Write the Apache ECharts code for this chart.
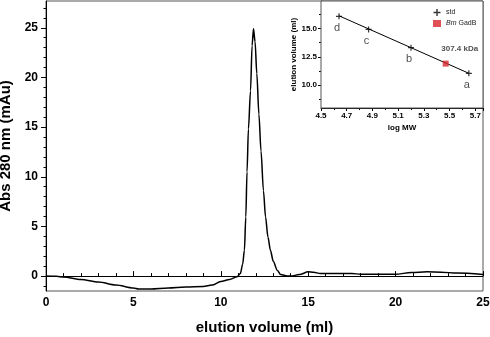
<!DOCTYPE html>
<html>
<head>
<meta charset="utf-8">
<script src="https://cdn.jsdelivr.net/npm/echarts@6/dist/echarts.min.js"></script>
<style>
  html, body { margin: 0; padding: 0; background: #fff; }
  #main { width: 490px; height: 337px; }
</style>
</head>
<body>
<div id="main"></div>
<script>
// chromatogram (main plot)
var elutionVol = [0, 0.6, 1, 2, 3, 4, 5, 5.3, 6, 7, 8, 9, 9.5, 10, 10.5, 10.93, 11.12, 11.25, 11.35, 11.43, 11.5, 11.58, 11.7, 11.79, 11.87, 11.96, 12.06, 12.18, 12.3, 12.44, 12.56, 12.7, 12.84, 13.0, 13.23, 13.42, 13.8, 14.0, 14.5, 15.0, 15.3, 15.7, 17.5, 18, 20, 20.9, 21.8, 22.6, 23.5, 25];
var absorbance = [0, -0.02, -0.1, -0.35, -0.6, -0.9, -1.2, -1.3, -1.3, -1.2, -1.1, -1.05, -0.9, -0.55, -0.35, -0.07, 0.27, 1.2, 2.6, 5.95, 10.5, 14.8, 18.65, 23.2, 24.9, 23.6, 20.4, 16.3, 12.6, 8.6, 5.95, 3.9, 2.6, 1.5, 0.6, 0.15, 0.02, 0.0, 0.15, 0.43, 0.38, 0.27, 0.27, 0.18, 0.18, 0.37, 0.43, 0.4, 0.3, 0.17];
var peakLabel = '11.87 ml';
var mainYTicks = [0, 5, 10, 15, 20, 25];

// calibration (inset)
var stdLogMW = [4.64, 4.87, 5.2, 5.65];
var stdVol = [16.05, 14.9, 13.3, 11.05];
var stdNames = ['d', 'c', 'b', 'a'];
var fitLogMW = [4.64, 5.65];
var fitVol = [16.1, 11.05];
var sampleLogMW = [5.47];
var sampleVol = [11.9];
var sampleLabel = '307.4 kDa';
var insetYTicks = [10, 12.5, 15];

var font = 'Liberation Sans, Arial, sans-serif';
var myChart = echarts.init(document.getElementById('main'));

var mainData = elutionVol.map(function (v, i) {
  var item = { value: [v, absorbance[i]] };
  if (v === 11.87) {
    item.label = {
      show: true, formatter: peakLabel, position: 'top', offset: [7, -3],
      fontFamily: font, fontWeight: 'bold', fontSize: 11, color: '#000'
    };
  }
  return item;
});

var minorY = [];
for (var k = -1; k <= 27; k++) minorY.push(k);
var insetMinorY = [8.75, 11.25, 13.75, 16.25];

var option = {
  animation: false,
  backgroundColor: '#fff',
  grid: [
    { left: 46, right: 7, top: 1, bottom: 46, show: true, borderColor: '#555', borderWidth: 1, outerBoundsMode: 'none', containLabel: false },
    { left: 321, right: 7, top: 1, bottom: 229, show: true, borderColor: '#555', borderWidth: 1, backgroundColor: '#fff', z: 5, outerBoundsMode: 'none', containLabel: false }
  ],
  legend: {
    left: 428, top: 4, orient: 'vertical', itemGap: 4, itemWidth: 8, itemHeight: 7,
    textStyle: { fontFamily: font, fontSize: 7, color: '#222',
      rich: { i: { fontStyle: 'italic', fontSize: 7, fontFamily: font } } },
    formatter: function (name) {
      return name === 'Bm GadB' ? '{i|Bm} GadB' : name;
    },
    data: [
      { name: 'std', icon: 'path://M4,0h2v4h4v2h-4v4h-2v-4h-4v-2h4z', itemStyle: { color: '#000' } },
      { name: 'Bm GadB', icon: 'rect', itemStyle: { color: '#d7262b' } }
    ],
    z: 10
  },
  xAxis: [
    {
      gridIndex: 0, type: 'value', min: 0, max: 25, interval: 5,
      name: 'elution volume (ml)', nameLocation: 'middle', nameGap: 29,
      nameTextStyle: { fontFamily: font, fontWeight: 'bold', fontSize: 15, color: '#000' },
      axisLine: { lineStyle: { color: '#000', width: 1 } },
      axisTick: { inside: true, length: 5, lineStyle: { color: '#000' } },
      minorTick: { show: true, splitNumber: 5, length: 3, lineStyle: { color: '#000' } },
      axisLabel: { fontFamily: font, fontWeight: 'bold', fontSize: 12, color: '#000', margin: 6 },
      splitLine: { show: false }
    },
    {
      gridIndex: 1, type: 'value', min: 4.5, max: 5.76, interval: 0.2,
      name: 'log MW', nameLocation: 'middle', nameGap: 16,
      nameTextStyle: { fontFamily: font, fontWeight: 'bold', fontSize: 8, color: '#000' },
      axisLine: { lineStyle: { color: '#000', width: 1 } },
      axisTick: { length: 3, lineStyle: { color: '#000' } },
      minorTick: { show: true, splitNumber: 2, length: 2, lineStyle: { color: '#000' } },
      axisLabel: { fontFamily: font, fontWeight: 'bold', fontSize: 8, color: '#000', margin: 4, showMaxLabel: false,
        formatter: function (v) { return v.toFixed(1); } },
      splitLine: { show: false }
    }
  ],
  yAxis: [
    {
      gridIndex: 0, type: 'value', min: -1.5, max: 27.7,
      name: 'Abs 280 nm (mAu)', nameLocation: 'middle', nameGap: 31,
      nameTextStyle: { fontFamily: font, fontWeight: 'bold', fontSize: 15, color: '#000' },
      axisLine: { show: true, lineStyle: { color: '#000', width: 1 } },
      axisTick: { show: true, length: 5, customValues: mainYTicks, lineStyle: { color: '#000' } },
      axisLabel: { customValues: mainYTicks, fontFamily: font, fontWeight: 'bold', fontSize: 12, color: '#000', margin: 8 },
      splitLine: { show: false }
    },
    {
      gridIndex: 0, type: 'value', min: -1.5, max: 27.7, position: 'left',
      axisLine: { show: false },
      axisTick: { show: true, length: 2.5, customValues: minorY, lineStyle: { color: '#000' } },
      axisLabel: { show: false },
      splitLine: { show: false }
    },
    {
      gridIndex: 1, type: 'value', min: 8, max: 17.4,
      name: 'elution volume (ml)', nameLocation: 'middle', nameGap: 22,
      nameTextStyle: { fontFamily: font, fontWeight: 'bold', fontSize: 8, color: '#000' },
      axisLine: { show: true, lineStyle: { color: '#000', width: 1 } },
      axisTick: { show: true, length: 3, customValues: insetYTicks, lineStyle: { color: '#000' } },
      axisLabel: { customValues: insetYTicks, fontFamily: font, fontWeight: 'bold', fontSize: 8, color: '#000', margin: 4,
        formatter: function (v) { return v.toFixed(1); } },
      splitLine: { show: false }
    },
    {
      gridIndex: 1, type: 'value', min: 8, max: 17.4, position: 'left',
      axisLine: { show: false },
      axisTick: { show: true, length: 2, customValues: insetMinorY, lineStyle: { color: '#000' } },
      axisLabel: { show: false },
      splitLine: { show: false }
    }
  ],
  series: [
    {
      name: 'chromatogram', type: 'line', xAxisIndex: 0, yAxisIndex: 0,
      data: mainData, smooth: 0.3, smoothMonotone: 'x', showSymbol: false, symbol: 'none',
      lineStyle: { color: '#000', width: 1.5 }
    },
    {
      name: 'fit', type: 'line', xAxisIndex: 1, yAxisIndex: 2, z: 6,
      data: fitLogMW.map(function (v, i) { return [v, fitVol[i]]; }),
      showSymbol: false, symbol: 'none', lineStyle: { color: '#000', width: 1 }
    },
    {
      name: 'std', type: 'scatter', xAxisIndex: 1, yAxisIndex: 2, z: 7,
      symbol: 'path://M4,0h2v4h4v2h-4v4h-2v-4h-4v-2h4z', symbolSize: 6,
      itemStyle: { color: '#000' },
      data: stdLogMW.map(function (v, i) { return [v, stdVol[i]]; }),
      label: {
        show: true, position: 'bottom', distance: 3, offset: [-2, 0],
        fontFamily: font, fontSize: 11, color: '#222',
        formatter: function (p) { return stdNames[p.dataIndex]; }
      }
    },
    {
      name: 'Bm GadB', type: 'scatter', xAxisIndex: 1, yAxisIndex: 2, z: 8,
      symbol: 'rect', symbolSize: 6, itemStyle: { color: '#d7262b' },
      data: sampleLogMW.map(function (v, i) { return [v, sampleVol[i]]; }),
      label: {
        show: true, position: 'top', offset: [14, -3], formatter: sampleLabel,
        fontFamily: font, fontSize: 8, fontWeight: 'bold', color: '#222'
      }
    }
  ]
};
myChart.setOption(option);
</script>
</body>
</html>
